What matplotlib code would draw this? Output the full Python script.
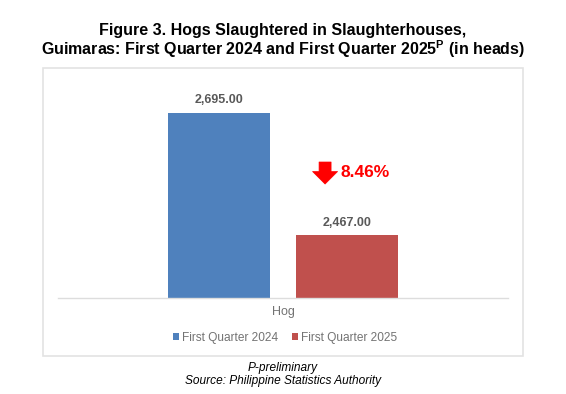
import matplotlib.pyplot as plt
from matplotlib.patches import Rectangle

plt.rcParams['font.family'] = ['Liberation Sans', 'DejaVu Sans']
plt.rcParams['mathtext.fontset'] = 'custom'
plt.rcParams['mathtext.rm'] = 'Liberation Sans:bold'

# Dati
category = "Hog"
series = ["First Quarter 2024", "First Quarter 2025"]
values = [2695.00, 2467.00]
colors = ["#4F81BD", "#C0504D"]
change_label = "8.46%"

fig = plt.figure(figsize=(5.66, 3.94), dpi=100)

# Cornice del grafico
fig.patches.append(Rectangle((43 / 566, 1 - 356 / 394), 480 / 566, 288 / 394,
                             transform=fig.transFigure, fill=False,
                             edgecolor="#E3E3E3", linewidth=1.2))

ax = fig.add_axes([58 / 566, 1 - 298 / 394, 450 / 566, 215 / 394])
offsets = [-0.284, 0.284]
width = 0.453
for off, val, col, name in zip(offsets, values, colors, series):
    ax.bar(off, val, width=width, color=col, label=name)
    ax.text(off, val + 12, f"{val:,.2f}", ha="center", va="bottom",
            fontsize=9, fontweight="bold", color="#595959")

ax.set_xlim(-1, 1)
ax.set_ylim(2350, 2750)
ax.set_yticks([])
ax.set_xticks([0])
ax.set_xticklabels([category], fontsize=9, color="#737373")
ax.tick_params(axis="x", length=0, pad=6)
for s in ["top", "right", "left"]:
    ax.spines[s].set_visible(False)
ax.spines["bottom"].set_color("#DDDDDD")
ax.spines["bottom"].set_linewidth(1)

# Freccia e variazione percentuale
ax.annotate("", xy=(0.187, 2562), xytext=(0.187, 2603),
            arrowprops=dict(arrowstyle="simple,head_width=1.0,head_length=0.5,tail_width=0.48",
                            mutation_scale=18, fc="#FF0000", ec="#FF0000", lw=0.5,
                            shrinkA=0, shrinkB=0))
ax.text(0.255, 2583, change_label, ha="left", va="center",
        fontsize=12.5, fontweight="bold", color="#FF0000")

leg = fig.legend(loc="center", bbox_to_anchor=(285 / 566, 1 - 338 / 394), ncol=2,
                 frameon=False, fontsize=8.6, handlelength=0.55, handleheight=0.55,
                 handletextpad=0.25, columnspacing=1.1)
for t in leg.get_texts():
    t.set_color("#737373")

fig.text(283 / 566, 1 - 30 / 394, "Figure 3. Hogs Slaughtered in Slaughterhouses,",
         ha="center", va="center", fontsize=11.5, fontweight="bold")
fig.text(283 / 566, 1 - 49 / 394,
         r"Guimaras: First Quarter 2024 and First Quarter 2025$^{\mathrm{P}}$ (in heads)",
         ha="center", va="center", fontsize=11.5, fontweight="bold")

fig.text(283 / 566, 1 - 368 / 394, "P-preliminary", ha="center", va="center",
         fontsize=8.6, style="italic")
fig.text(283 / 566, 1 - 381 / 394, "Source: Philippine Statistics Authority",
         ha="center", va="center", fontsize=8.6, style="italic")

fig.savefig("out.png", dpi=100)
